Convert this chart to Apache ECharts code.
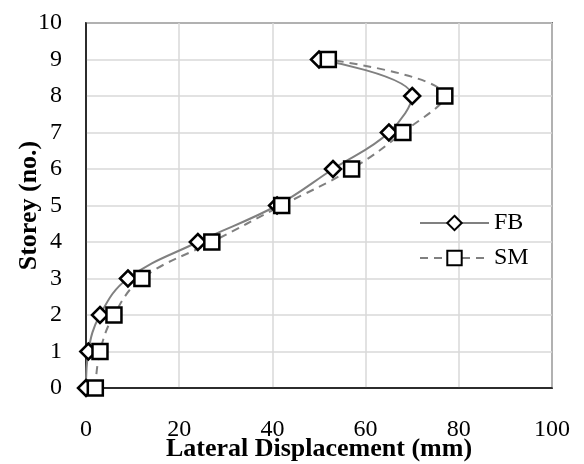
<!DOCTYPE html>
<html><head><meta charset="utf-8">
<script src="https://cdn.jsdelivr.net/npm/echarts@6/dist/echarts.min.js"></script>
<style>html,body{margin:0;padding:0;background:#fff}#c{width:584px;height:464px}</style>
</head><body><div id="c"></div>
<script>
var storeys = [0,1,2,3,4,5,6,7,8,9];
var fbDisp = [0,0.5,3,9,24,41,53,65,70,50];
var smDisp = [2,3,6,12,27,42,57,68,77,52];
var xTicks = [0,20,40,60,80,100];
var yTicks = [0,1,2,3,4,5,6,7,8,9,10];

function pairs(xs, ys){ return xs.map(function(x,i){ return [x, ys[i]]; }); }
var font = 'Liberation Serif';
var chart = echarts.init(document.getElementById('c'), null, {renderer:'canvas'});
chart.setOption({
  animation:false,
  backgroundColor:'#fff',
  grid:{left:86,right:32,top:23,bottom:76,containLabel:false,outerBoundsMode:'none',
    show:true,borderColor:'#000',borderWidth:1.5,backgroundColor:'transparent'},
  xAxis:{type:'value',min:xTicks[0],max:xTicks[xTicks.length-1],interval:20,
    name:'Lateral Displacement (mm)',nameLocation:'middle',nameGap:48,nameMoveOverlap:false,
    nameTextStyle:{fontFamily:font,fontWeight:'bold',fontSize:26,color:'#000'},
    axisLine:{show:true,lineStyle:{color:'#000',width:1.5}},axisTick:{show:false},
    axisLabel:{fontFamily:font,fontSize:24,color:'#000',margin:30},
    splitLine:{show:true,lineStyle:{color:'#d9d9d9',width:1.5}}},
  yAxis:{type:'value',min:yTicks[0],max:yTicks[yTicks.length-1],interval:1,
    name:'Storey (no.)',nameLocation:'middle',nameGap:44,nameRotate:90,nameMoveOverlap:false,
    nameTextStyle:{fontFamily:font,fontWeight:'bold',fontSize:26,color:'#000'},
    axisLine:{show:true,lineStyle:{color:'#000',width:1.5}},axisTick:{show:false},
    axisLabel:{fontFamily:font,fontSize:24,color:'#000',margin:24},
    splitLine:{show:true,lineStyle:{color:'#d9d9d9',width:1.5}}},
  legend:{orient:'vertical',left:414,top:206,itemWidth:69,itemHeight:18,itemGap:11,
    textStyle:{fontFamily:font,fontSize:24,color:'#000'},
    data:['FB','SM']},
  series:[
    {name:'FB',type:'line',data:pairs(fbDisp,storeys),smooth:0.4,
     symbol:'diamond',symbolSize:[16,16],
     lineStyle:{color:'#808080',width:2},
     itemStyle:{color:'#fff',borderColor:'#000',borderWidth:2.5}},
    {name:'SM',type:'line',data:pairs(smDisp,storeys),smooth:0.4,
     symbol:'rect',symbolSize:[15,15],
     lineStyle:{color:'#808080',width:2,type:[8,6]},
     itemStyle:{color:'#fff',borderColor:'#000',borderWidth:2.5}}
  ]
});
</script></body></html>
